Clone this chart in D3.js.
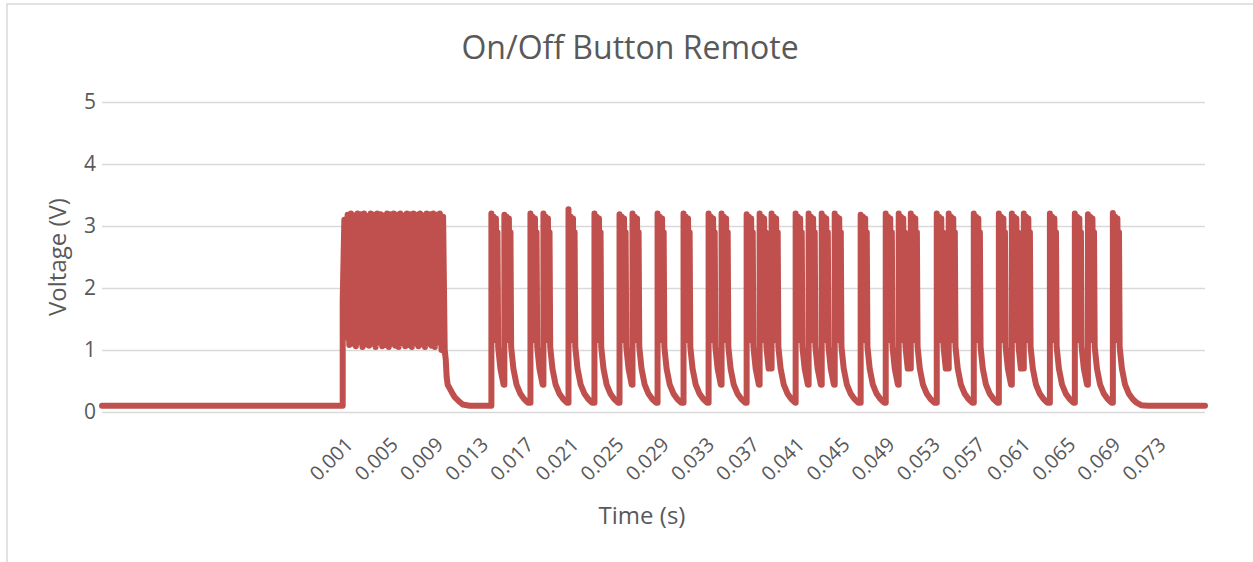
<!DOCTYPE html>
<html>
<head>
<meta charset="utf-8">
<script src="https://cdn.jsdelivr.net/npm/d3@7"></script>
<style>
  body { margin: 0; background: #fff; }
  text { font-family: "Open Sans", "Noto Sans", sans-serif; fill: #595959; }
</style>
</head>
<body>
<div id="chart"></div>
<script>
// values (time in s, voltage in V)
const timeRange = [-0.0205, 0.0772];
const xTickValues = [0.001, 0.005, 0.009, 0.013, 0.017, 0.021, 0.025, 0.029, 0.033, 0.037,
    0.041, 0.045, 0.049, 0.053, 0.057, 0.061, 0.065, 0.069, 0.073];
const yTickValues = [0, 1, 2, 3, 4, 5];

const baseVolt = 0.1;

// 9 ms carrier burst (header)
const burstStart = 0.00082;
const burstEnd = 0.00986;
const burstVolts = [1.8, 3.1, 1.2, 3.18, 1.08, 3.2, 1.1, 3.17, 1.06, 3.2, 1.12, 3.19, 1.05, 3.2, 1.09, 3.16,
    1.07, 3.2, 1.1, 3.18, 1.05, 3.2, 1.12, 3.19, 1.06, 3.17, 1.08, 3.2, 1.05, 3.19, 1.1, 3.2, 1.07, 3.18,
    1.05, 3.2, 1.11, 3.17, 1.06, 3.2, 1.08, 3.19, 1.05, 3.2, 1.1, 3.18, 1.06, 3.2, 1.09, 3.17, 1.05, 3.2,
    1.1, 3.19, 1.07, 3.2, 1.05, 3.18, 1.12, 3.2, 1.0, 3.15, 0.95];
const burstTail = [[0.00986, 1.0], [0.00995, 0.84], [0.01003, 0.56], [0.01012, 0.44], [0.01048, 0.32],
    [0.01074, 0.24], [0.01119, 0.16], [0.01145, 0.12], [0.01207, 0.1]];

// bit pulses: rise times and peak voltage of each finger
const pulseStarts = [0.01399, 0.01514, 0.01745, 0.01860, 0.02082, 0.02312, 0.02534, 0.02649, 0.02871,
    0.03101, 0.03323, 0.03438, 0.03660, 0.03775, 0.03881, 0.04094, 0.04209, 0.04325, 0.04440, 0.04670,
    0.04892, 0.05007, 0.05114, 0.05344, 0.05450, 0.05672, 0.05894, 0.06009, 0.06115, 0.06346, 0.06567,
    0.06683, 0.06904];
const pulsePeaks = [3.2, 3.18, 3.2, 3.2, 3.27, 3.2, 3.19, 3.2, 3.2, 3.2, 3.2, 3.2, 3.19, 3.2, 3.2, 3.2,
    3.2, 3.2, 3.2, 3.18, 3.2, 3.2, 3.2, 3.2, 3.2, 3.2, 3.2, 3.2, 3.2, 3.2, 3.2, 3.19, 3.21];
// one finger: [time after rise, volts]; first volts is replaced by the peak
const pulseShape = [[0, 3.2], [0.0001, 1.25], [0.0002, 3.15], [0.0003, 1.2], [0.0004, 3.12],
    [0.00048, 1.15], [0.00054, 2.9], [0.0006, 1.05], [0.0008, 0.7], [0.00108, 0.44], [0.0014, 0.3],
    [0.00175, 0.21], [0.0021, 0.15], [0.0025, 0.11], [0.0031, 0.1]];

const canvas = { w: 1253, h: 562 };
const plot = { left: 102, right: 1205, top: 102, bottom: 412 };

// assemble the trace
const trace = [[timeRange[0], baseVolt], [burstStart, baseVolt]];
burstVolts.forEach((v, i) => {
    trace.push([burstStart + i * (burstEnd - burstStart) / (burstVolts.length - 1), v]);
});
burstTail.forEach(p => trace.push(p));
pulseStarts.forEach((t0, i) => {
    const next = i < pulseStarts.length - 1 ? pulseStarts[i + 1] : Infinity;
    trace.push([t0, trace[trace.length - 1][1]]);
    pulseShape.forEach(([dt, v], j) => {
        if (t0 + dt < next) trace.push([t0 + dt, j === 0 ? pulsePeaks[i] : v]);
    });
});
trace.push([timeRange[1], baseVolt]);

const x = d3.scaleLinear().domain(timeRange).range([plot.left, plot.right]);
const y = d3.scaleLinear().domain([0, 5]).range([plot.bottom, plot.top]);

const svg = d3.select("#chart")
    .append("svg")
    .attr("width", canvas.w)
    .attr("height", canvas.h)
    .attr("viewBox", `0 0 ${canvas.w} ${canvas.h}`);

svg.append("rect")
    .attr("width", canvas.w).attr("height", canvas.h)
    .attr("fill", "#fff");

// chart area border
svg.append("rect")
    .attr("x", 7).attr("y", 4)
    .attr("width", canvas.w + 20).attr("height", canvas.h + 20)
    .attr("fill", "none")
    .attr("stroke", "#D9D9D9")
    .attr("stroke-width", 1.5);

// y axis + gridlines
const yAxis = svg.append("g")
    .attr("transform", `translate(${plot.left},0)`)
    .call(d3.axisLeft(y).tickValues(yTickValues).tickFormat(d3.format("d"))
        .tickSize(-(plot.right - plot.left)).tickPadding(6));
yAxis.select(".domain").remove();
yAxis.selectAll("line").attr("stroke", "#D9D9D9").attr("stroke-width", 1.5);
yAxis.selectAll("text").attr("font-size", 21).attr("fill", "#595959");

// x axis labels
const xAxis = svg.append("g")
    .attr("transform", `translate(0,${plot.bottom})`)
    .call(d3.axisBottom(x).tickValues(xTickValues).tickFormat(d3.format(".3f")).tickSize(0));
xAxis.select(".domain").remove();
xAxis.selectAll("text")
    .attr("font-size", 20)
    .attr("fill", "#595959")
    .attr("text-anchor", "end")
    .attr("dy", 0)
    .attr("y", 0)
    .attr("transform", "translate(9,34) rotate(-45)");

// trace
svg.append("path")
    .datum(trace)
    .attr("fill", "none")
    .attr("stroke", "#C0504D")
    .attr("stroke-width", 6)
    .attr("stroke-linejoin", "round")
    .attr("stroke-linecap", "round")
    .attr("d", d3.line().x(d => x(d[0])).y(d => y(d[1])));

// titles
svg.append("text")
    .attr("x", 630).attr("y", 59)
    .attr("text-anchor", "middle")
    .attr("font-size", 32)
    .text("On/Off Button Remote");

svg.append("text")
    .attr("x", 642).attr("y", 524)
    .attr("text-anchor", "middle")
    .attr("font-size", 24)
    .text("Time (s)");

svg.append("text")
    .attr("transform", `translate(66,${(plot.top + plot.bottom) / 2}) rotate(-90)`)
    .attr("text-anchor", "middle")
    .attr("font-size", 24)
    .text("Voltage (V)");
</script>
</body>
</html>
